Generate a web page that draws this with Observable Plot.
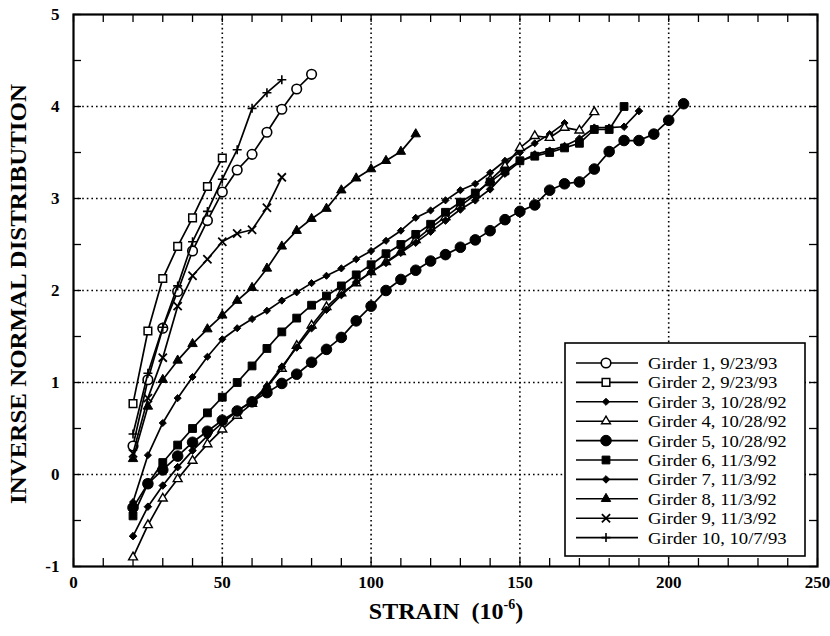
<!DOCTYPE html>
<html><head><meta charset="utf-8">
<script src="https://cdn.jsdelivr.net/npm/d3@7"></script>
<script src="https://cdn.jsdelivr.net/npm/@observablehq/plot@0.6"></script>
<style>
html,body{margin:0;padding:0;background:#fff;}
#chart{width:830px;height:636px;}
</style></head><body><div id="chart"></div>
<script>
// ---- data ----
const girderNames = ["Girder 1, 9/23/93","Girder 2, 9/23/93","Girder 3, 10/28/92","Girder 4, 10/28/92","Girder 5, 10/28/92","Girder 6, 11/3/92","Girder 7, 11/3/92","Girder 8, 11/3/92","Girder 9, 11/3/92","Girder 10, 10/7/93"];

const strainG1 = [20,25,30,35,40,45,50,55,60,65,70,75,80];
const zG1 = [0.31,1.03,1.59,1.99,2.43,2.76,3.07,3.31,3.48,3.72,3.97,4.19,4.35];

const strainG2 = [20,25,30,35,40,45,50];
const zG2 = [0.77,1.56,2.13,2.48,2.79,3.13,3.44];

const strainG3 = [20,25,30,35,40,45,50,55,60,65,70,75,80,85,90,95,100,105,110,115,120,125,130,135,140,145,150,155,160,165];
const zG3 = [-0.30,0.21,0.56,0.83,1.06,1.28,1.47,1.59,1.69,1.78,1.89,1.98,2.08,2.16,2.24,2.34,2.43,2.54,2.65,2.79,2.87,2.98,3.09,3.16,3.28,3.41,3.50,3.60,3.70,3.82];

const strainG4 = [20,25,30,35,40,45,50,55,60,65,70,75,80,85,90,95,100,105,110,115,120,125,130,135,140,145,150,155,160,165,170,175];
const zG4 = [-0.90,-0.55,-0.26,-0.05,0.15,0.33,0.49,0.64,0.77,0.95,1.15,1.40,1.62,1.82,1.97,2.08,2.20,2.31,2.42,2.55,2.68,2.80,2.92,3.04,3.20,3.35,3.55,3.68,3.66,3.77,3.74,3.94];

const strainG5 = [20,25,30,35,40,45,50,55,60,65,70,75,80,85,90,95,100,105,110,115,120,125,130,135,140,145,150,155,160,165,170,175,180,185,190,195,200,205];
const zG5 = [-0.36,-0.10,0.05,0.20,0.35,0.47,0.59,0.69,0.79,0.89,0.99,1.09,1.22,1.36,1.49,1.67,1.83,2.00,2.12,2.22,2.32,2.39,2.47,2.55,2.65,2.77,2.86,2.93,3.09,3.16,3.18,3.32,3.51,3.63,3.63,3.70,3.85,4.03];

const strainG6 = [20,25,30,35,40,45,50,55,60,65,70,75,80,85,90,95,100,105,110,115,120,125,130,135,140,145,150,155,160,165,170,175,180,185];
const zG6 = [-0.45,-0.10,0.13,0.32,0.50,0.67,0.84,1.00,1.18,1.37,1.55,1.70,1.84,1.94,2.05,2.17,2.28,2.40,2.50,2.61,2.72,2.85,2.96,3.06,3.18,3.30,3.41,3.46,3.50,3.55,3.60,3.75,3.75,4.00];

const strainG7 = [20,25,30,35,40,45,50,55,60,65,70,75,80,85,90,95,100,105,110,115,120,125,130,135,140,145,150,155,160,165,170,175,180,185,190];
const zG7 = [-0.67,-0.35,-0.12,0.08,0.26,0.42,0.56,0.69,0.80,0.96,1.17,1.38,1.59,1.79,1.95,2.09,2.20,2.30,2.41,2.52,2.64,2.76,2.88,2.98,3.10,3.27,3.40,3.48,3.52,3.57,3.65,3.77,3.77,3.78,3.95];

const strainG8 = [20,25,30,35,40,45,50,55,60,65,70,75,80,85,90,95,100,105,110,115];
const zG8 = [0.17,0.74,1.03,1.24,1.42,1.58,1.73,1.89,2.03,2.24,2.48,2.65,2.78,2.89,3.09,3.22,3.32,3.41,3.51,3.70];

const strainG9 = [20,25,30,35,40,45,50,55,60,65,70];
const zG9 = [0.23,0.83,1.27,1.83,2.16,2.34,2.53,2.62,2.66,2.90,3.23];

const strainG10 = [20,25,30,35,40,45,50,55,60,65,70];
const zG10 = [0.44,1.10,1.60,2.05,2.53,2.86,3.21,3.53,3.98,4.15,4.29];

const xTickValues = [0,50,100,150,200,250];
const yTickValues = [-1,0,1,2,3,4,5];
const xMinorTicks = [0,10,20,30,40,50,60,70,80,90,100,110,120,130,140,150,160,170,180,190,200,210,220,230,240,250];
const yMinorTicks = [-1,-0.5,0,0.5,1,1.5,2,2.5,3,3.5,4,4.5,5];
const xGridValues = [50,100,150,200];
const yGridValues = [0,1,2,3,4];

// ---- styling per series ----
const strains = [strainG1,strainG2,strainG3,strainG4,strainG5,strainG6,strainG7,strainG8,strainG9,strainG10];
const zs = [zG1,zG2,zG3,zG4,zG5,zG6,zG7,zG8,zG9,zG10];
const markerStyles = [
  {symbol:"circle",   fill:"white", stroke:"black", r:4.8, sw:1.6},
  {symbol:"square",   fill:"white", stroke:"black", r:4.3, sw:1.5},
  {symbol:"diamond2", fill:"black", stroke:"black", r:3.2, sw:1},
  {symbol:"triangle", fill:"white", stroke:"black", r:3.3, sw:1.4},
  {symbol:"circle",   fill:"black", stroke:"black", r:5.3, sw:1},
  {symbol:"square",   fill:"black", stroke:"black", r:4.4, sw:1},
  {symbol:"diamond2", fill:"black", stroke:"black", r:3.4, sw:1},
  {symbol:"triangle", fill:"black", stroke:"black", r:3.5, sw:1},
  {symbol:"times",    fill:"none",  stroke:"black", r:3.8, sw:1.8},
  {symbol:"plus",     fill:"none",  stroke:"black", r:3.0, sw:1.6}
];
const d3Symbols = {circle:d3.symbolCircle, square:d3.symbolSquare, diamond2:d3.symbolDiamond2, triangle:d3.symbolTriangle, times:d3.symbolTimes, plus:d3.symbolPlus};

const series = girderNames.map((name,i)=> strains[i].map((x,j)=>({girder:name, strain:x, z:zs[i][j]})));

const W=830, H=636, mL=73, mR=13, mT=14, mB=70;
const plotW = W-mL-mR, plotH = H-mT-mB;
const tickLen = 8;

const marks = [
  Plot.ruleX(xGridValues, {stroke:"black", strokeWidth:1.6, strokeDasharray:"1.6,3"}),
  Plot.ruleY(yGridValues, {stroke:"black", strokeWidth:1.6, strokeDasharray:"1.6,3"}),
  Plot.tickX(xMinorTicks, {insetTop: plotH - tickLen, stroke:"black", strokeWidth:1.3}),
  Plot.tickX(xMinorTicks, {insetBottom: plotH - tickLen, stroke:"black", strokeWidth:1.3}),
  Plot.tickY(yMinorTicks, {insetRight: plotW - tickLen, stroke:"black", strokeWidth:1.3}),
  Plot.tickY(yMinorTicks, {insetLeft: plotW - tickLen, stroke:"black", strokeWidth:1.3})
];
series.forEach((rows,i)=>{
  const s = markerStyles[i];
  marks.push(Plot.line(rows, {x:"strain", y:"z", stroke:"black", strokeWidth:1.7}));
  marks.push(Plot.dot(rows, {x:"strain", y:"z", symbol:s.symbol, r:s.r, fill:s.fill, stroke:s.stroke, strokeWidth:s.sw}));
});
marks.push(Plot.frame({stroke:"black", strokeWidth:2.2}));

const chart = Plot.plot({
  width:W, height:H,
  marginLeft:mL, marginRight:mR, marginTop:mT, marginBottom:mB,
  style:{fontFamily:"'Liberation Serif','Times New Roman',serif", fontSize:"17px", fontWeight:"bold", background:"white", color:"black", overflow:"visible"},
  x:{domain:[0,250], ticks:xTickValues, tickSize:0, tickPadding:9, label:null, tickFormat:d=>String(d)},
  y:{domain:[-1,5], ticks:yTickValues, tickSize:0, tickPadding:14, label:null, tickFormat:d=>String(d)},
  marks
});
document.getElementById("chart").appendChild(chart);

// ---- axis titles ----
const svg = d3.select(chart);
const xt = svg.append("text")
  .attr("x", 446).attr("y", 619)
  .attr("text-anchor","middle")
  .attr("font-family","'Liberation Serif','Times New Roman',serif")
  .attr("font-size", 24).attr("font-weight","bold")
  .style("white-space","pre")
  .attr("fill","black");
xt.append("tspan").text("STRAIN  (10");
xt.append("tspan").attr("font-size",14).attr("dy",-10).text("-6");
xt.append("tspan").attr("dy",10).text(")");

svg.append("text")
  .attr("transform","translate(26,294) rotate(-90)")
  .attr("text-anchor","middle")
  .attr("font-family","'Liberation Serif','Times New Roman',serif")
  .attr("font-size", 24).attr("font-weight","bold")
  .attr("textLength", 420).attr("lengthAdjust","spacingAndGlyphs")
  .attr("fill","black")
  .text("INVERSE NORMAL DISTRIBUTION");

// ---- legend ----
const lgX = 565, lgY = 343, lgW = 240, lgH = 213, rowY0 = 363, rowStep = 19.4;
const lg = svg.append("g");
lg.append("rect").attr("x",lgX).attr("y",lgY).attr("width",lgW).attr("height",lgH)
  .attr("fill","white").attr("stroke","black").attr("stroke-width",1.6);
girderNames.forEach((name,i)=>{
  const cy = rowY0 + i*rowStep;
  const s = markerStyles[i];
  lg.append("line").attr("x1",576).attr("x2",638).attr("y1",cy).attr("y2",cy)
    .attr("stroke","black").attr("stroke-width",1.6);
  lg.append("path")
    .attr("d", d3.symbol(d3Symbols[s.symbol], Math.PI*s.r*s.r)())
    .attr("transform",`translate(606,${cy})`)
    .attr("fill", s.fill).attr("stroke", s.stroke).attr("stroke-width", s.sw);
  lg.append("text")
    .attr("transform",`translate(648,${cy}) scale(1.1,1)`)
    .attr("dy","0.35em")
    .attr("text-anchor","start")
    .attr("font-family","'Liberation Serif','Times New Roman',serif")
    .attr("font-size",17).attr("font-weight","normal")
    .attr("fill","black")
    .text(name);
});
</script>
</body></html>
